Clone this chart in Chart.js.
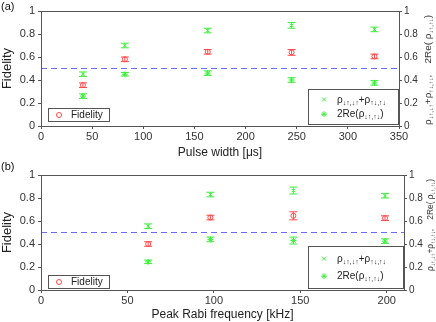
<!DOCTYPE html>
<html>
<head>
<meta charset="utf-8">
<script src="https://cdn.jsdelivr.net/npm/chart.js@4/dist/chart.umd.min.js"></script>
<style>
  body { margin: 0; background: #fff; }
  canvas { display: block; }
</style>
</head>
<body>
<canvas id="panelA" width="436" height="160"></canvas>
<canvas id="panelB" width="436" height="162"></canvas>
<script>
// panel (a): pulse width scan
const pulseWidth = [41, 82, 163, 245, 326]
const fidelityA = [0.355, 0.58, 0.645, 0.64, 0.605]
const fidelityErrA = [0.02, 0.02, 0.02, 0.025, 0.02]
const populationA = [0.45, 0.70, 0.83, 0.875, 0.84]
const populationErrA = [0.02, 0.02, 0.02, 0.025, 0.02]
const coherenceA = [0.26, 0.45, 0.46, 0.40, 0.375]
const coherenceErrA = [0.02, 0.015, 0.02, 0.02, 0.02]
const xTicksA = [0, 50, 100, 150, 200, 250, 300, 350]

// panel (b): peak Rabi frequency scan
const rabiFreq = [62, 98, 146, 199]
const fidelityB = [0.40, 0.63, 0.645, 0.625]
const fidelityErrB = [0.02, 0.02, 0.035, 0.02]
const populationB = [0.555, 0.83, 0.865, 0.82]
const populationErrB = [0.02, 0.02, 0.03, 0.02]
const coherenceB = [0.245, 0.44, 0.43, 0.425]
const coherenceErrB = [0.015, 0.02, 0.03, 0.02]
const xTicksB = [0, 50, 100, 150, 200]

const fidelityThreshold = 0.5
const yTicks = [0, 0.2, 0.4, 0.6, 0.8, 1]

const RED = '#ff4a4a'
const GREEN = '#3cf03c'
const FONT = '"Liberation Sans", Arial, sans-serif'

function toPoints(xs, ys) {
  return xs.map((x, i) => ({ x, y: ys[i] }))
}

function richWidth(ctx, parts, size) {
  const sub = Math.round(size * 0.7)
  let total = 0
  parts.forEach(([t, s]) => {
    ctx.font = (s ? sub : size) + 'px ' + FONT
    total += ctx.measureText(t).width
  })
  return total
}

// subscripted text, parts = [[text, isSub]]
function drawRich(ctx, parts, x, y, size) {
  const sub = Math.round(size * 0.7)
  let cx = x
  ctx.textAlign = 'left'
  ctx.textBaseline = 'alphabetic'
  parts.forEach(([t, s]) => {
    ctx.font = (s ? sub : size) + 'px ' + FONT
    ctx.fillText(t, cx, s ? y + 2 : y)
    cx += ctx.measureText(t).width
  })
}

const popLabel = [['ρ', 0], ['↓↑,↓↑', 1], ['+ρ', 0], ['↑↓,↑↓', 1]]
const cohLabel = [['2Re(ρ', 0], ['↓↑,↑↓', 1], [')', 0]]
const rightTitle = [['ρ', 0], ['↓↑,↓↑', 1], ['+ρ', 0], ['↑↓,↑↓', 1], [',    2Re( ρ', 0], ['↓↑,↑↓', 1], [')', 0]]

const errorBars = {
  id: 'errorBars',
  afterDatasetsDraw(chart) {
    const ctx = chart.ctx
    const xs = chart.scales.x
    const ys = chart.scales.y
    chart.data.datasets.forEach((ds) => {
      if (!ds.errors) return
      ctx.save()
      ctx.strokeStyle = ds.borderColor
      ctx.lineWidth = 1
      ds.data.forEach((p, i) => {
        const px = xs.getPixelForValue(p.x)
        const top = ys.getPixelForValue(p.y + ds.errors[i])
        const bot = ys.getPixelForValue(p.y - ds.errors[i])
        ctx.beginPath()
        ctx.moveTo(px, top); ctx.lineTo(px, bot)
        ctx.moveTo(px - 4, top); ctx.lineTo(px + 4, top)
        ctx.moveTo(px - 4, bot); ctx.lineTo(px + 4, bot)
        ctx.stroke()
      })
      ctx.restore()
    })
  }
}

const decorations = {
  id: 'decorations',
  afterDraw(chart, args, opts) {
    const ctx = chart.ctx
    const a = chart.chartArea
    ctx.save()
    // axes box
    ctx.strokeStyle = '#555'
    ctx.lineWidth = 1
    ctx.strokeRect(a.left + 0.5, a.top + 0.5, a.right - a.left, a.bottom - a.top)

    // panel letter
    ctx.fillStyle = '#111'
    ctx.font = '11px ' + FONT
    ctx.textAlign = 'left'
    ctx.textBaseline = 'top'
    ctx.fillText(opts.letter, 1, 1)

    // fidelity legend
    ctx.fillStyle = '#fff'
    ctx.strokeStyle = '#555'
    const fx = a.left + 7, fy = a.bottom - opts.fidBottom - 13
    ctx.fillRect(fx, fy, 61, 13)
    ctx.strokeRect(fx + 0.5, fy + 0.5, 61, 13)
    ctx.strokeStyle = RED
    ctx.beginPath()
    ctx.arc(fx + 11, fy + 7, 2.5, 0, Math.PI * 2)
    ctx.stroke()
    ctx.fillStyle = '#222'
    ctx.font = '10px ' + FONT
    ctx.textBaseline = 'middle'
    ctx.fillText('Fidelity', fx + 23, fy + 7)

    // green legend
    const gw = opts.greenW, gh = opts.greenH
    const gx = a.right - 1 - gw, gy = a.bottom - 2 - gh
    ctx.fillStyle = '#fff'
    ctx.fillRect(gx, gy, gw, gh)
    ctx.strokeStyle = '#555'
    ctx.strokeRect(gx + 0.5, gy + 0.5, gw, gh)
    ctx.strokeStyle = GREEN
    const mx = gx + 16
    const r1 = gy + gh * 0.3, r2 = gy + gh * 0.72
    ctx.beginPath()
    ctx.moveTo(mx - 2, r1 - 2); ctx.lineTo(mx + 2, r1 + 2)
    ctx.moveTo(mx - 2, r1 + 2); ctx.lineTo(mx + 2, r1 - 2)
    ctx.moveTo(mx - 3, r2); ctx.lineTo(mx + 3, r2)
    ctx.moveTo(mx, r2 - 3); ctx.lineTo(mx, r2 + 3)
    ctx.moveTo(mx - 2, r2 - 2); ctx.lineTo(mx + 2, r2 + 2)
    ctx.moveTo(mx - 2, r2 + 2); ctx.lineTo(mx + 2, r2 - 2)
    ctx.stroke()
    ctx.fillStyle = '#222'
    drawRich(ctx, popLabel, gx + 29, r1 + 3, 10)
    drawRich(ctx, cohLabel, gx + 29, r2 + 3, 10)

    // right axis title, reading bottom to top, squeezed to a set length
    const w = richWidth(ctx, rightTitle, 9)
    ctx.translate(opts.titleX, opts.titleY)
    ctx.rotate(-Math.PI / 2)
    ctx.scale(opts.titleLen / w, 1)
    ctx.fillStyle = '#333'
    drawRich(ctx, rightTitle, -w / 2, 3, 9)
    ctx.restore()
  }
}

function fmtTick(v) {
  return String(Math.round(v * 10) / 10)
}

function makePanel(canvasId, cfg) {
  const tickFont = { family: FONT, size: 11 }
  const rightFont = { family: FONT, size: 10 }
  const titleFont = { family: FONT, size: 12 }
  const gridCfg = { drawOnChartArea: false, tickLength: 3, color: '#555' }
  return new Chart(document.getElementById(canvasId), {
    type: 'scatter',
    data: {
      datasets: [{
        label: 'threshold',
        type: 'line',
        data: [{ x: 0, y: fidelityThreshold }, { x: cfg.xMax, y: fidelityThreshold }],
        borderColor: '#6b6bff',
        borderWidth: 1,
        borderDash: [6, 4],
        pointRadius: 0
      }, {
        label: 'ρ↓↑,↓↑+ρ↑↓,↑↓',
        data: toPoints(cfg.xs, cfg.pop),
        errors: cfg.popErr,
        borderColor: GREEN,
        backgroundColor: GREEN,
        pointStyle: 'crossRot',
        pointRadius: 2.5,
        borderWidth: 1
      }, {
        label: '2Re(ρ↓↑,↑↓)',
        data: toPoints(cfg.xs, cfg.coh),
        errors: cfg.cohErr,
        borderColor: GREEN,
        backgroundColor: GREEN,
        pointStyle: 'star',
        pointRadius: 3,
        borderWidth: 1
      }, {
        label: 'Fidelity',
        data: toPoints(cfg.xs, cfg.fid),
        errors: cfg.fidErr,
        borderColor: RED,
        backgroundColor: 'rgba(0,0,0,0)',
        pointStyle: 'circle',
        pointRadius: 2.5,
        borderWidth: 1
      }]
    },
    options: {
      responsive: false,
      animation: false,
      layout: { padding: { top: cfg.padTop, left: 0, right: 0, bottom: 0 } },
      plugins: {
        legend: { display: false },
        tooltip: { enabled: false },
        decorations: cfg.deco
      },
      scales: {
        x: {
          type: 'linear',
          min: 0,
          max: cfg.xMax,
          border: { display: false },
          grid: gridCfg,
          afterBuildTicks: (s) => { s.ticks = cfg.xTicks.map(v => ({ value: v })) },
          ticks: { color: '#333', font: tickFont, padding: 1, maxRotation: 0 },
          title: { display: true, text: cfg.xTitle, color: '#222', font: titleFont, padding: { top: 1, bottom: 0 } },
          afterFit: (s) => { s.height = cfg.xHeight }
        },
        y: {
          min: 0,
          max: 1,
          border: { display: false },
          grid: gridCfg,
          afterBuildTicks: (s) => { s.ticks = yTicks.map(v => ({ value: v })) },
          ticks: { color: '#333', font: tickFont, padding: 3, callback: fmtTick },
          title: { display: true, text: 'Fidelity', color: '#222', font: { family: FONT, size: 13 }, padding: 0 },
          afterFit: (s) => { s.width = 41 }
        },
        y2: {
          position: 'right',
          min: 0,
          max: 1,
          border: { display: false },
          grid: gridCfg,
          afterBuildTicks: (s) => { s.ticks = yTicks.map(v => ({ value: v })) },
          ticks: { color: '#333', font: rightFont, padding: 2, callback: fmtTick },
          afterFit: (s) => { s.width = cfg.rightW }
        }
      }
    },
    plugins: [errorBars, decorations]
  })
}

makePanel('panelA', {
  xs: pulseWidth, fid: fidelityA, fidErr: fidelityErrA,
  pop: populationA, popErr: populationErrA,
  coh: coherenceA, cohErr: coherenceErrA,
  xMax: 350, xTicks: xTicksA, xTitle: 'Pulse width [μs]',
  padTop: 11, xHeight: 34, rightW: 37,
  deco: { letter: '(a)', fidBottom: 5, greenW: 90, greenH: 35, titleX: 428, titleY: 70, titleLen: 110 }
})

makePanel('panelB', {
  xs: rabiFreq, fid: fidelityB, fidErr: fidelityErrB,
  pop: populationB, popErr: populationErrB,
  coh: coherenceB, cohErr: coherenceErrB,
  xMax: 210, xTicks: xTicksB, xTitle: 'Peak Rabi frequency [kHz]',
  padTop: 15, xHeight: 32, rightW: 32,
  deco: { letter: '(b)', fidBottom: 2, greenW: 95, greenH: 42, titleX: 430, titleY: 65, titleLen: 92 }
})
</script>
</body>
</html>
